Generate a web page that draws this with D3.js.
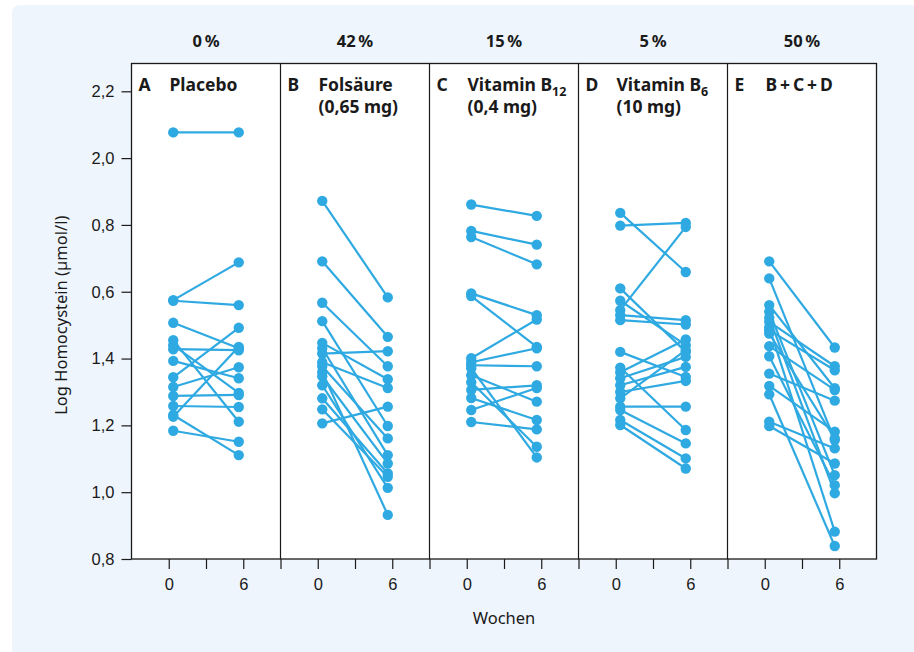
<!DOCTYPE html>
<html>
<head>
<meta charset="utf-8">
<script src="https://cdn.jsdelivr.net/npm/d3@7"></script>
<style>
  html, body { margin: 0; padding: 0; background: #fff; }
  svg { display: block; font-family: "Noto Sans", "Open Sans", sans-serif; }
</style>
</head>
<body>
<div id="chart"></div>
<script>
/* Homocystein vor/nach 6 Wochen, fünf Gruppen. */

const PANELS   = ['A', 'B', 'C', 'D', 'E'];
const PERCENTS = ['0\u2009%', '42\u2009%', '15\u2009%', '5\u2009%', '50\u2009%'];
// Titel: [Zeile 1 (Text, Index), Zeile 2]
const TITLES = [
  [['Placebo'], null],
  [['Folsäure'], '(0,65 mg)'],
  [['Vitamin B', '12'], '(0,4 mg)'],
  [['Vitamin B', '6'], '(10 mg)'],
  [['B\u2009+\u2009C\u2009+\u2009D'], null]
];
const WEEKS = [0, 6];

const Y_TICKS       = [0.8, 1.0, 1.2, 1.4, 1.6, 1.8, 2.0, 2.2];
const Y_TICK_LABELS = ['0,8', '1,0', '1,2', '1,4', '0,6', '0,8', '2,0', '2,2']; // so im Original beschriftet

// je Proband: [Woche 0, Woche 6]
const PLACEBO = [
  [2.077, 2.077], [1.575, 1.688], [1.573, 1.560], [1.507, 1.431], [1.455, 1.211],
  [1.440, 1.297], [1.428, 1.425], [1.393, 1.341], [1.344, 1.492], [1.315, 1.374],
  [1.288, 1.291], [1.258, 1.255], [1.231, 1.111], [1.226, 1.435], [1.184, 1.151]
];
const FOLSAEURE = [
  [1.872, 1.583], [1.691, 1.465], [1.567, 1.377], [1.512, 1.198], [1.447, 1.338],
  [1.431, 1.111], [1.415, 1.422], [1.389, 1.312], [1.377, 1.161], [1.360, 0.932],
  [1.347, 1.086], [1.320, 1.013], [1.281, 1.056], [1.248, 1.046], [1.206, 1.256]
];
const VITAMIN_B12 = [
  [1.861, 1.827], [1.782, 1.741], [1.764, 1.682], [1.595, 1.530], [1.587, 1.435],
  [1.401, 1.517], [1.389, 1.431], [1.380, 1.377], [1.371, 1.104], [1.350, 1.271],
  [1.329, 1.136], [1.306, 1.320], [1.282, 1.216], [1.246, 1.312], [1.210, 1.188]
];
const VITAMIN_B6 = [
  [1.836, 1.659], [1.798, 1.806], [1.610, 1.420], [1.573, 1.440], [1.545, 1.794],
  [1.530, 1.515], [1.515, 1.502], [1.420, 1.345], [1.373, 1.186], [1.359, 1.457],
  [1.341, 1.405], [1.320, 1.375], [1.300, 1.333], [1.281, 1.425], [1.256, 1.256],
  [1.246, 1.146], [1.216, 1.101], [1.201, 1.071]
];
const KOMBI = [
  [1.691, 1.433], [1.640, 1.156], [1.560, 1.311], [1.540, 1.051], [1.510, 1.377],
  [1.494, 0.882], [1.485, 1.365], [1.475, 1.161], [1.437, 1.306], [1.407, 1.021],
  [1.355, 1.274], [1.318, 1.181], [1.293, 0.839], [1.211, 1.131], [1.198, 1.086],
  [1.522, 0.997]
];
const SERIES = [PLACEBO, FOLSAEURE, VITAMIN_B12, VITAMIN_B6, KOMBI];

const W = 914, H = 652;
const BLUE = '#2fa9e1';
const INK = '#1a1a1a';
const DOT_INSET = 4.5;
const TITLE_SIZE = 17.5;

const svg = d3.select('#chart').append('svg').attr('width', W).attr('height', H);

// Hintergrund
svg.append('rect').attr('x', 12).attr('y', 5).attr('width', W).attr('height', H)
  .attr('rx', 8).attr('fill', '#eef5fc');

const y = d3.scaleLinear().domain([0.8, 2.2]).range([559, 91.3]);
const yTop = y.invert(63.5);
const panel = d3.scaleBand().domain(PANELS).range([131.5, 876.5]).padding(0);
const x = d3.scaleLinear().domain([-3, 9]).range([0, panel.bandwidth()]);

// Plotfläche
svg.append('rect')
  .attr('x', panel.range()[0]).attr('y', y(yTop))
  .attr('width', panel.range()[1] - panel.range()[0]).attr('height', y(0.8) - y(yTop))
  .attr('fill', '#fff');

// y-Achse
const yAxis = svg.append('g')
  .attr('transform', `translate(${panel.range()[0]},0)`)
  .call(d3.axisLeft(y).tickValues(Y_TICKS).tickSize(10).tickPadding(7)
    .tickFormat((d, i) => Y_TICK_LABELS[i]));
yAxis.select('.domain').remove();
yAxis.selectAll('line').attr('stroke', INK).attr('stroke-width', 1.2);
yAxis.selectAll('text').attr('font-size', 16.5).attr('fill', INK).attr('font-family', null);

svg.append('text')
  .attr('transform', `translate(67,${(y(0.8) + y(yTop)) / 2 + 4}) rotate(-90)`)
  .attr('text-anchor', 'middle').attr('font-size', 16.5).attr('fill', INK)
  .text('Log Homocystein (µmol/l)');

PANELS.forEach((p, i) => {
  const g = svg.append('g').attr('transform', `translate(${panel(p)},0)`);
  const last = i === PANELS.length - 1;

  // x-Achse
  const xa = g.append('g').attr('transform', `translate(0,${y(0.8)})`)
    .call(d3.axisBottom(x).tickValues(last ? [0, 3, 6] : [0, 3, 6, 9]).tickSize(10).tickPadding(9)
      .tickFormat(d => WEEKS.includes(d) ? d : ''));
  xa.select('.domain').remove();
  xa.selectAll('line').attr('stroke', INK).attr('stroke-width', 1.2);
  xa.selectAll('text').attr('font-size', 16.5).attr('fill', INK).attr('font-family', null);

  // Linien + Punkte
  const xi = [x(WEEKS[0]) + DOT_INSET, x(WEEKS[1]) - DOT_INSET];
  const rows = SERIES[i];
  g.selectAll('line.pair').data(rows).join('line')
    .attr('class', 'pair')
    .attr('x1', xi[0]).attr('x2', xi[1])
    .attr('y1', d => y(d[0])).attr('y2', d => y(d[1]))
    .attr('stroke', BLUE).attr('stroke-width', 2.2);
  rows.forEach(d => {
    g.selectAll(null).data(d).join('circle')
      .attr('cx', (v, k) => xi[k]).attr('cy', v => y(v))
      .attr('r', 5.2).attr('fill', BLUE);
  });

  // Prozent oben
  g.append('text').attr('x', panel.bandwidth() / 2).attr('y', 47)
    .attr('text-anchor', 'middle').attr('font-size', 16.5).attr('font-weight', 700)
    .attr('fill', INK).text(PERCENTS[i]);

  // Titel
  const t = TITLES[i];
  g.append('text').attr('x', 7).attr('y', 91).attr('font-size', TITLE_SIZE).attr('font-weight', 700)
    .attr('fill', INK).text(p);
  const t1 = g.append('text').attr('x', 38).attr('y', 91).attr('font-size', TITLE_SIZE)
    .attr('font-weight', 700).attr('fill', INK);
  t1.append('tspan').text(t[0][0]);
  if (t[0][1]) t1.append('tspan').attr('dy', 5).attr('font-size', 12.5).text(t[0][1]);
  if (t[1]) g.append('text').attr('x', 38).attr('y', 113).attr('font-size', TITLE_SIZE)
    .attr('font-weight', 700).attr('fill', INK).text(t[1]);
});

// Rahmen und Trennlinien
svg.append('rect')
  .attr('x', panel.range()[0]).attr('y', y(yTop))
  .attr('width', panel.range()[1] - panel.range()[0]).attr('height', y(0.8) - y(yTop))
  .attr('fill', 'none').attr('stroke', INK).attr('stroke-width', 1.3);
svg.selectAll('line.sep').data(PANELS.slice(1)).join('line')
  .attr('class', 'sep')
  .attr('x1', d => panel(d)).attr('x2', d => panel(d))
  .attr('y1', y(yTop)).attr('y2', y(0.8))
  .attr('stroke', INK).attr('stroke-width', 1.2);

svg.append('text').attr('x', (panel.range()[0] + panel.range()[1]) / 2).attr('y', 624)
  .attr('text-anchor', 'middle').attr('font-size', 16.5).attr('fill', INK).text('Wochen');
</script>
</body>
</html>
